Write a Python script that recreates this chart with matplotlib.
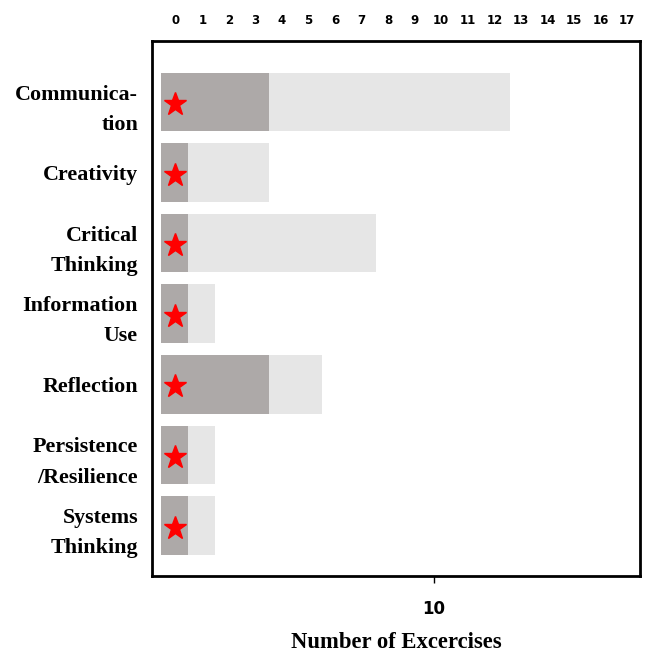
import matplotlib
matplotlib.use("Agg")
import matplotlib.pyplot as plt
import numpy as np

categories = ["Communica-\ntion", "Creativity", "Critical\nThinking", "Information\nUse",
              "Reflection", "Persistence\n/Resilience", "Systems\nThinking"]
range_values = [13, 4, 8, 2, 6, 2, 2]
measure_values = [4, 1, 1, 1, 4, 1, 1]
marker_values = [0.5, 0.5, 0.5, 0.5, 0.5, 0.5, 0.5]
top_tick_labels = [str(i) for i in range(18)]

fig = plt.figure(figsize=(6.49, 6.53), dpi=100)
ax = fig.add_axes([0.2342, 0.1179, 0.7519, 0.8193])

y = np.arange(len(categories))
ax.barh(y, range_values, height=0.83, color="#e6e6e6", left=0, zorder=1)
ax.barh(y, measure_values, height=0.83, color="#ada9a8", left=0, zorder=2)
ax.plot(marker_values, y + 0.03, linestyle="none", marker="*", markersize=17,
        color="#ff0000", zorder=3)

ax.set_xlim(-0.35, 17.85)
ax.set_ylim(6.716, -0.865)

ax.set_yticks(y)
ax.set_yticklabels(categories, fontfamily="Liberation Serif", fontweight="bold",
                   fontsize=15.8, linespacing=1.68, ha="right")
ax.tick_params(axis="y", length=0, pad=10)

ax.set_xticks([10.15])
ax.set_xticklabels(["10"], fontfamily="DejaVu Sans", fontweight="bold", fontsize=12)
ax.tick_params(axis="x", length=5, width=1, pad=12, direction="out")
ax.set_xlabel("Number of Excercises", fontfamily="Liberation Serif", fontweight="bold",
              fontsize=16.3, labelpad=10)

top = ax.secondary_xaxis("top")
top.set_xticks([0.54 + i * 0.99 for i in range(18)])
top.set_xticklabels(top_tick_labels, fontfamily="DejaVu Sans", fontweight="bold", fontsize=8.5)
top.tick_params(length=0, pad=10)
top.spines["top"].set_visible(False)

for s in ax.spines.values():
    s.set_linewidth(2)
    s.set_color("black")

fig.savefig("out.png", dpi=100)
